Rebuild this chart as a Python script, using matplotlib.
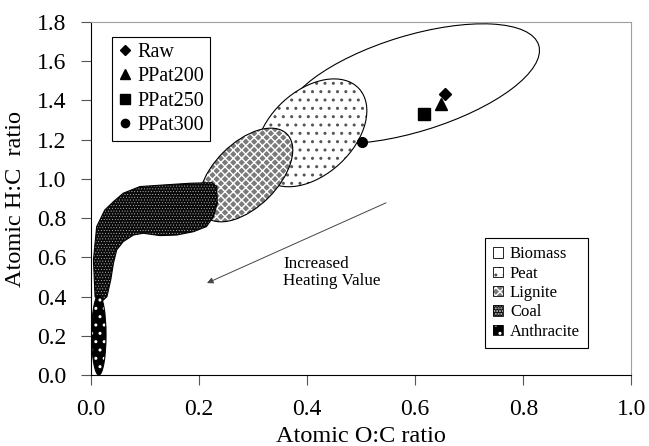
import matplotlib
matplotlib.use("Agg")
import matplotlib.pyplot as plt
from matplotlib.patches import Ellipse, Polygon, Patch
from matplotlib.lines import Line2D
from matplotlib.transforms import ScaledTranslation

plt.rcParams['font.family'] = ['Liberation Serif', 'DejaVu Serif']
plt.rcParams['hatch.linewidth'] = 1.0

######################
### Data
######################
# pretreated samples (O:C, H:C)
sample_names = ["Raw", "PPat200", "PPat250", "PPat300"]
sample_oc = [0.655, 0.648, 0.617, 0.501]
sample_hc = [1.434, 1.384, 1.332, 1.189]

# fuel regions drawn as ellipses: centre in O:C / H:C
ell_names = ["Biomass", "Peat", "Lignite", "Anthracite"]
ell_oc = [0.595, 0.408, 0.287, 0.015]
ell_hc = [1.485, 1.235, 1.020, 0.204]

# coal band outline (O:C, H:C)
coal_oc = [0.008, 0.005, 0.011, 0.026, 0.042, 0.060, 0.091, 0.134, 0.184, 0.224,
           0.233, 0.234, 0.227, 0.214, 0.190, 0.159, 0.128, 0.097, 0.079, 0.060,
           0.048, 0.042, 0.037, 0.030, 0.017]
coal_hc = [0.400, 0.587, 0.757, 0.842, 0.884, 0.927, 0.961, 0.969, 0.978, 0.981,
           0.961, 0.875, 0.808, 0.757, 0.731, 0.714, 0.711, 0.723, 0.714, 0.680,
           0.638, 0.570, 0.485, 0.400, 0.366]

legend_names = ["Biomass", "Peat", "Lignite", "Coal", "Anthracite"]
x_ticks = [0.0, 0.2, 0.4, 0.6, 0.8, 1.0]
y_ticks = [0.0, 0.2, 0.4, 0.6, 0.8, 1.0, 1.2, 1.4, 1.6, 1.8]

######################
### Styles
######################
# ellipse shape on the page: half axes (inch) and tilt (deg)
ell_a = [1.32, 0.65, 0.58, 0.40]
ell_b = [0.48, 0.42, 0.32, 0.072]
ell_angle = [17, 43, 45, 90]

styles = {
    "Biomass":    dict(fc="white",   hc="black",   hatch=None,     hlw=1.0),
    "Peat":       dict(fc="white",   hc="#555555", hatch="..",     hlw=1.0),
    "Lignite":    dict(fc="#7a7a7a", hc="white",   hatch="xxxx",   hlw=1.0),
    "Coal":       dict(fc="#0a0a0a", hc="#cfcfcf", hatch="......", hlw=0.3),
    "Anthracite": dict(fc="black",   hc="white",   hatch="..",     hlw=1.0),
}
markers = ["D", "^", "s", "o"]
msizes = [6, 8, 8.5, 7]

fig = plt.figure(figsize=(6.49, 4.46), dpi=100)
ax = fig.add_axes([0.1398, 0.159, 0.8332, 0.7917])
ax.set_xlim(0, 1.0)
ax.set_ylim(0, 1.8)


def style_fill(p, st):
    p.set(facecolor=st["fc"], edgecolor=st["hc"], linewidth=0)
    if st["hatch"]:
        p.set_hatch(st["hatch"])
        if hasattr(p, "set_hatch_linewidth"):
            p.set_hatch_linewidth(st["hlw"])
    return p


def add_region(make, st, z):
    fill = style_fill(make(), st)
    fill.set_zorder(z)
    ax.add_patch(fill)
    edge = make()
    edge.set(facecolor="none", edgecolor="black", linewidth=0.8, zorder=z)
    ax.add_patch(edge)


def ellipse_maker(i):
    def make():
        trans = fig.dpi_scale_trans + ScaledTranslation(ell_oc[i], ell_hc[i], ax.transData)
        return Ellipse((0, 0), 2 * ell_a[i], 2 * ell_b[i], angle=ell_angle[i], transform=trans)
    return make


z = 2
for i, name in enumerate(ell_names):
    if name == "Anthracite":
        add_region(lambda: Polygon(list(zip(coal_oc, coal_hc)), closed=True, joinstyle="round"),
                   styles["Coal"], z)
        z += 1
    add_region(ellipse_maker(i), styles[name], z)
    z += 1

for i in range(len(sample_names)):
    ax.plot(sample_oc[i], sample_hc[i], ls="none", marker=markers[i], ms=msizes[i],
            color="black", zorder=10)

ax.annotate("", xy=(0.215, 0.469), xytext=(0.546, 0.878),
            arrowprops=dict(arrowstyle="-|>", color="#444444", lw=0.7,
                            mutation_scale=9, shrinkA=0, shrinkB=0))
ax.text(0.356, 0.522, "Increased\nHeating Value", fontsize=12.3, ha="left", va="center",
        linespacing=1.1)

# legends
h1 = [Line2D([], [], ls="none", marker=m, ms=s * 0.85, color="black")
      for m, s in zip(markers, msizes)]
leg1 = ax.legend(h1, sample_names, loc="upper left", bbox_to_anchor=(0.039, 0.957),
                 borderaxespad=0, fontsize=14.5, fancybox=False, edgecolor="black",
                 framealpha=1, handlelength=0.7, handletextpad=0.25, labelspacing=0.25,
                 borderpad=0.3)
leg1.get_frame().set_linewidth(0.8)
ax.add_artist(leg1)

h2 = []
for name in legend_names:
    p = style_fill(Patch(), styles[name])
    o = Patch(facecolor="none", edgecolor="black", linewidth=0.6)
    h2.append((p, o))
leg2 = ax.legend(h2, legend_names, loc="lower right", bbox_to_anchor=(0.92, 0.0765),
                 borderaxespad=0, fontsize=12, fancybox=False, edgecolor="black",
                 framealpha=1, handlelength=0.6, handleheight=0.6, handletextpad=0.42,
                 labelspacing=0.2, borderpad=0.5)
leg2.get_frame().set_linewidth(0.8)

ax.set_xticks(x_ticks)
ax.set_yticks(y_ticks)
ax.set_xticklabels(["%.1f" % v for v in x_ticks])
ax.set_yticklabels(["%.1f" % v for v in y_ticks])
ax.tick_params(direction="out", length=7, width=0.8, pad=10.5, labelsize=17, color="#555555")
for s in ["top", "right"]:
    ax.spines[s].set_color("#a0a0a0")
for s in ["left", "bottom"]:
    ax.spines[s].set_color("black")
ax.set_xlabel("Atomic O:C ratio", fontsize=17.5, labelpad=4)
ax.set_ylabel("Atomic H:C  ratio", fontsize=17.5, labelpad=8)

plt.savefig("out.png", dpi=100)
